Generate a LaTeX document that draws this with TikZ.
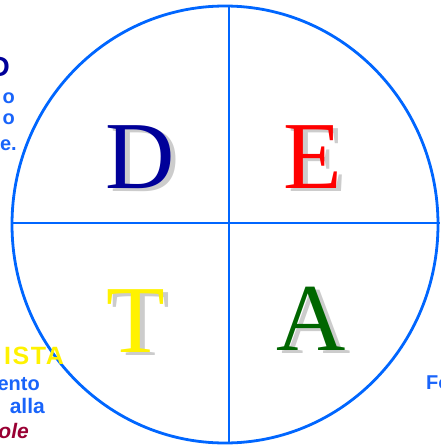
\documentclass[tikz,border=0pt]{standalone}
\usepackage{fontspec}
\setmainfont{Liberation Serif}
\setsansfont{Liberation Sans}
\usetikzlibrary{positioning}

\definecolor{bluCerchio}{RGB}{0,102,255}
\definecolor{bluTesto}{RGB}{25,100,250}
\definecolor{bluScuro}{RGB}{0,0,153}
\definecolor{verdeA}{RGB}{0,102,0}
\definecolor{rossoScuro}{RGB}{153,0,51}

\begin{document}
\begin{tikzpicture}[x=1pt, y=-1pt,
    lettera/.style={font=\fontsize{96}{96}\selectfont, inner sep=0pt, anchor=base},
    ombra/.style={lettera, text=gray!40},
    laterale/.style={font=\sffamily\bfseries\fontsize{20}{20}\selectfont,
      inner sep=0pt, text=bluTesto}]

  \useasboundingbox (0,0) rectangle (440,447);

  % --- Cerchio e assi ---
  \coordinate (centro) at (225,224.5);
  \draw[bluCerchio, line width=2.8pt] (centro) ellipse [x radius=213pt, y radius=218.5pt];

  \coordinate (alto) at (229,6);
  \coordinate (basso) at (229,443);
  \coordinate (sinistra) at (12,223);
  \coordinate (destra) at (440,223);
  \draw[bluCerchio, line width=1.3pt] (alto) -- (basso);
  \draw[bluCerchio, line width=1.3pt] (sinistra) -- (destra);

  % --- Lettere con ombra ---
  \node[ombra] (ombraD) at (145,191) {D};
  \node[lettera, text=bluScuro] (letD) at (140,188) {D};

  \node[ombra] (ombraE) at (318,191) {E};
  \node[lettera, text=red] (letE) at (313,188) {E};

  \node[ombra] (ombraT) at (141,355) {T};
  \node[lettera, text=yellow] (letT) at (136,352) {T};

  \node[ombra] (ombraA) at (316,353) {A};
  \node[lettera, text=verdeA] (letA) at (311,350) {A};

  % --- Testi ai margini ---
  \node[laterale, text=bluScuro, anchor=base east,
    font=\sffamily\bfseries\fontsize{28}{28}\selectfont] (titoloD) at (10,76) {D};
  \node[laterale, anchor=base east] (rigaO1) at (15,103) {o};
  \node[laterale, anchor=base east] (rigaO2) at (15,124) {o};
  \node[laterale, anchor=base east] (rigaE) at (17,150) {e.};

  \node[laterale, text=yellow, anchor=base east,
    font=\sffamily\bfseries\fontsize{25}{25}\selectfont\addfontfeature{LetterSpace=6}]
    (titoloT) at (64,364) {ISTA};
  \node[laterale, anchor=base east] (rigaEnto) at (40,390) {ento};
  \node[laterale, anchor=base east, font=\sffamily\bfseries\fontsize{21}{21}\selectfont]
    (rigaAlla) at (45,413) {alla};
  \node[laterale, text=rossoScuro, anchor=base east,
    font=\sffamily\bfseries\itshape\fontsize{21}{21}\selectfont] (rigaOle) at (29,438) {ole};

  \node[laterale, anchor=base west] (rigaFo) at (426,389) {Fo};

\end{tikzpicture}
\end{document}
